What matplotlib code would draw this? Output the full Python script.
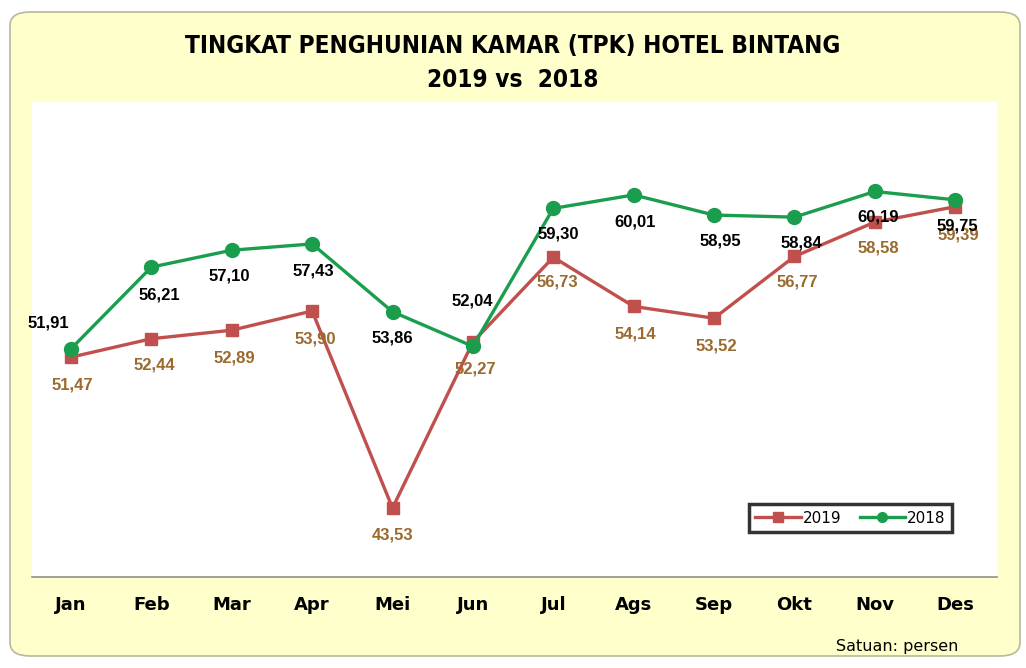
import numpy as np
import matplotlib.pyplot as plt
from matplotlib.patches import FancyBboxPatch

bulan = ['Jan', 'Feb', 'Mar', 'Apr', 'Mei', 'Jun', 'Jul', 'Ags', 'Sep', 'Okt', 'Nov', 'Des']
tpk_2019 = [51.47, 52.44, 52.89, 53.90, 43.53, 52.27, 56.73, 54.14, 53.52, 56.77, 58.58, 59.39]
tpk_2018 = [51.91, 56.21, 57.10, 57.43, 53.86, 52.04, 59.30, 60.01, 58.95, 58.84, 60.19, 59.75]

# label offsets in pixels (dx, dy), dy positive = up
off_2019 = [(1, -28), (3, -26), (3, -28), (3, -28), (0, -27), (2, -27),
            (4, -25), (2, -28), (2, -28), (3, -26), (4, -26), (3, -28)]
off_2018 = [(-23, 26), (8, -28), (-2, -26), (1, -27), (0, -26), (-1, 45),
            (5, -26), (1, -27), (6, -26), (7, -26), (3, -26), (2, -26)]

W, H = 1026, 668
fig = plt.figure(figsize=(W / 100, H / 100), dpi=100)
fig.patch.set_facecolor('white')

# rounded yellow panel
panel = FancyBboxPatch((10 / W, 12 / H), 1010 / W, 644 / H,
                       boxstyle='round,pad=0,rounding_size=0.02',
                       transform=fig.transFigure, facecolor='#FFFFCC',
                       edgecolor='#B8B89A', linewidth=1.2, zorder=-5)
fig.patches.append(panel)

ax = fig.add_axes([32 / W, 1 - 577 / H, (997 - 32) / W, (577 - 102) / H])
ax.set_zorder(1)
ax.set_facecolor('white')
x = np.arange(len(bulan))

red = '#C0504D'
green = '#1A9E4E'
brown = '#9A6A2E'

ax.plot(x, tpk_2019, color=red, lw=2.4, marker='s', ms=9, label='2019', zorder=3)
ax.plot(x, tpk_2018, color=green, lw=2.4, marker='o', ms=10, label='2018', zorder=4)

lab_font = dict(family=['Liberation Sans', 'DejaVu Sans'], fontsize=12, fontweight='bold')
for i in range(len(bulan)):
    ax.annotate(f'{tpk_2019[i]:.2f}'.replace('.', ','), (x[i], tpk_2019[i]),
                xytext=off_2019[i], textcoords='offset pixels',
                ha='center', va='center', color=brown, zorder=6, **lab_font)
    ax.annotate(f'{tpk_2018[i]:.2f}'.replace('.', ','), (x[i], tpk_2018[i]),
                xytext=off_2018[i], textcoords='offset pixels',
                ha='center', va='center', color='black', zorder=6, **lab_font)

ax.set_xlim(-0.485, 11.52)
ax.set_ylim(39.9, 64.9)
ax.set_yticks([])
ax.set_xticks(x)
ax.set_xticklabels(bulan, fontsize=13, fontweight='bold',
                   family=['DejaVu Sans'])
ax.tick_params(axis='x', length=0, pad=14)
for s in ['top', 'left', 'right']:
    ax.spines[s].set_visible(False)
ax.spines['bottom'].set_color('#909090')
ax.spines['bottom'].set_linewidth(1.2)

leg = ax.legend(loc='center', bbox_to_anchor=(0.848, 0.124), ncol=2,
                frameon=True, fancybox=False, handlelength=3.0,
                handletextpad=0.1, columnspacing=1.2, borderpad=0.4,
                prop={'family': 'DejaVu Sans', 'size': 11})
leg.get_frame().set_edgecolor('black')
leg.get_frame().set_linewidth(2.5)
for h in leg.legend_handles:
    h.set_markersize(7)

title_kw = dict(ha='center', va='center', fontsize=17.5, fontweight='bold',
                family=['DejaVu Sans'], fontstretch='condensed')
fig.text(0.5, 1 - 46 / H, 'TINGKAT PENGHUNIAN KAMAR (TPK) HOTEL BINTANG', **title_kw)
fig.text(0.5, 1 - 80 / H, '2019 vs  2018', **title_kw)

fig.text(958 / W, 1 - 646 / H, 'Satuan: persen', ha='right', va='center',
         fontsize=11.5, family='DejaVu Sans')

fig.savefig('out.png', dpi=100)
